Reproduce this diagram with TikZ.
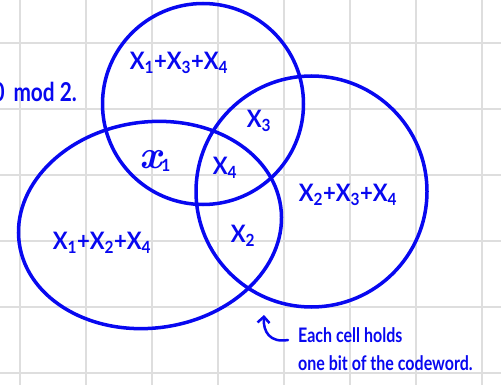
\documentclass[tikz,border=0pt]{standalone}
\usepackage{fontspec}
\usetikzlibrary{arrows.meta}
\newfontfamily\hand[FakeStretch=0.8]{Lato}
\newfontfamily\handl[FakeStretch=0.92]{Lato}
\definecolor{hb}{RGB}{8,8,240}
\definecolor{gridc}{RGB}{222,222,222}
\begin{document}
\begin{tikzpicture}[x=1pt,y=-1pt,
  venn/.style={draw=hb, line width=3.5pt},
  lab/.style={text=hb, font=\handl\bfseries\fontsize{24}{26}\selectfont, inner sep=0pt},
  note/.style={text=hb, font=\hand\bfseries\fontsize{20}{22}\selectfont, inner sep=0pt, anchor=base west},
  gridline/.style={draw=gridc, line width=2pt},
  hook/.style={draw=hb, line width=2.5pt, line cap=round, -{Straight Barb[length=6pt,width=12pt]}}]
\useasboundingbox (0,0) rectangle (501,385);
\clip (0,0) rectangle (501,385);
\fill[white] (0,0) rectangle (501,385);
\foreach \gx in {20,86,...,482} \draw[gridline] (\gx,0) -- (\gx,385);
\foreach \gy in {43,109,...,373} \draw[gridline] (0,\gy) -- (501,\gy);
\draw[venn] (203,104) circle[radius=100.5];
\draw[venn, rotate around={8:(150,225)}] (150,225) ellipse[x radius=132, y radius=103];
\draw[venn] (311.5,191.5) circle[radius=115.5];
\node[lab] (t134) at (179,63) {X\textsubscript{1}+X\textsubscript{3}+X\textsubscript{4}};
\node[lab] (x3) at (259,121) {X\textsubscript{3}};
\node[lab] (x1) at (155,161) {{\rmfamily\bfseries\itshape\fontsize{40}{42}\selectfont x}\textsubscript{1}};
\node[lab] (x4) at (225,168) {X\textsubscript{4}};
\node[lab] (t234) at (348,195) {X\textsubscript{2}+X\textsubscript{3}+X\textsubscript{4}};
\node[lab] (x2) at (243,236) {X\textsubscript{2}};
\node[lab] (t124) at (102,243) {X\textsubscript{1}+X\textsubscript{2}+X\textsubscript{4}};
\node[note, anchor=base east, font=\hand\bfseries\fontsize{26}{28}\selectfont] (mod) at (77,102) {0\hspace{9pt}mod 2.};
\node[note] (each) at (298,342) {Each cell holds};
\node[note] (bit) at (298,370) {one bit of the codeword.};
\coordinate (aS) at (288,340);
\coordinate (aE) at (264,315);
\draw[hook] (aS) .. controls (270,343) and (263,332) .. (aE);
\end{tikzpicture}
\end{document}
